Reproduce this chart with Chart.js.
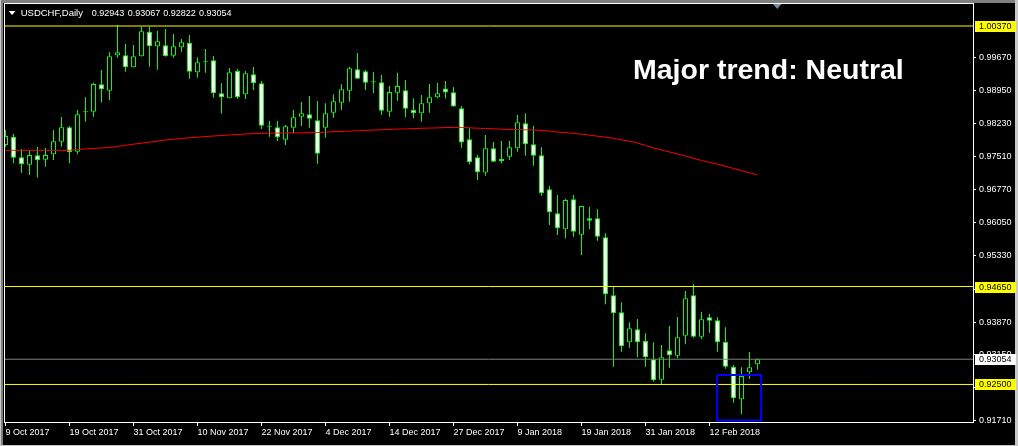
<!DOCTYPE html>
<html>
<head>
<meta charset="utf-8">
<script src="https://cdn.jsdelivr.net/npm/chart.js@4/dist/chart.umd.min.js"></script>
<style>
html,body{margin:0;padding:0;background:#000;overflow:hidden}
canvas{display:block}
</style>
</head>
<body>
<canvas id="c" width="1018" height="446"></canvas>
<script>
// ---------------- data ----------------
const symbolText = 'USDCHF,Daily';
const titleText = 'Major trend: Neutral';

const dates = [
 '9 Oct 2017','10 Oct 2017','11 Oct 2017','12 Oct 2017','13 Oct 2017','16 Oct 2017','17 Oct 2017','18 Oct 2017','19 Oct 2017','20 Oct 2017',
 '23 Oct 2017','24 Oct 2017','25 Oct 2017','26 Oct 2017','27 Oct 2017','30 Oct 2017','31 Oct 2017','1 Nov 2017','2 Nov 2017','3 Nov 2017',
 '6 Nov 2017','7 Nov 2017','8 Nov 2017','9 Nov 2017','10 Nov 2017','13 Nov 2017','14 Nov 2017','15 Nov 2017','16 Nov 2017','17 Nov 2017',
 '20 Nov 2017','21 Nov 2017','22 Nov 2017','23 Nov 2017','24 Nov 2017','27 Nov 2017','28 Nov 2017','29 Nov 2017','30 Nov 2017','1 Dec 2017',
 '4 Dec 2017','5 Dec 2017','6 Dec 2017','7 Dec 2017','8 Dec 2017','11 Dec 2017','12 Dec 2017','13 Dec 2017','14 Dec 2017','15 Dec 2017',
 '18 Dec 2017','19 Dec 2017','20 Dec 2017','21 Dec 2017','22 Dec 2017','26 Dec 2017','27 Dec 2017','28 Dec 2017','29 Dec 2017','2 Jan 2018',
 '3 Jan 2018','4 Jan 2018','5 Jan 2018','8 Jan 2018','9 Jan 2018','10 Jan 2018','11 Jan 2018','12 Jan 2018','15 Jan 2018','16 Jan 2018',
 '17 Jan 2018','18 Jan 2018','19 Jan 2018','22 Jan 2018','23 Jan 2018','24 Jan 2018','25 Jan 2018','26 Jan 2018','29 Jan 2018','30 Jan 2018',
 '31 Jan 2018','1 Feb 2018','2 Feb 2018','5 Feb 2018','6 Feb 2018','7 Feb 2018','8 Feb 2018','9 Feb 2018','12 Feb 2018','13 Feb 2018',
 '14 Feb 2018','15 Feb 2018','16 Feb 2018','19 Feb 2018','20 Feb 2018'
];

const opens = [
 .97758,.97933,.97487,.97325,.97531,.97435,.97553,.97830,.98146,.97610,
 .98477,.98489,.99090,.98950,.99727,.99727,.99463,.99705,1.00245,.99924,
 .99946,.99718,.99902,1.00003,.99354,.99588,.99617,.98892,.98783,.99382,
 .98871,.99310,.99112,.98161,.98146,.97874,.98137,.98379,.98431,.98300,
 .98137,.98467,.98686,.98950,.99419,.99375,.99136,.99134,.98489,.98906,
 .98958,.98526,.98453,.98673,.98805,.98998,.98914,.98563,.97883,.97487,
 .97154,.97685,.97450,.97501,.97685,.98234,.97773,.97531,.96785,.96258,
 .95907,.96565,.95788,.96148,.96148,.95731,.94458,.94085,.93426,.93711,
 .93455,.93053,.92605,.93250,.93132,.93571,.94458,.93549,.93975,.93909,
 .93432,.92890,.92175,.92767,.92943
];
const highs = [
 .98087,.97999,.97670,.97632,.97714,.97692,.98087,.98372,.98175,.98526,
 .98805,.99125,.99404,.99793,1.00392,.99975,.99953,1.00355,1.00355,1.00267,
 1.00304,1.00194,1.00085,1.00172,.99683,.99865,.99711,.99112,.99448,.99426,
 .99382,.99470,.99163,.98284,.98284,.98197,.98526,.98702,.98833,.98723,
 .98673,.98871,.99090,.99470,.99777,.99404,.99360,.99294,.99053,.99345,
 .99184,.98783,.98855,.99097,.99125,.99163,.99031,.98614,.98124,.97538,
 .97977,.97823,.97845,.97845,.98416,.98453,.98175,.97707,.96857,.96660,
 .96572,.96660,.96420,.96403,.96346,.95819,.94647,.94304,.93865,.93938,
 .93624,.93426,.93367,.93784,.93981,.94552,.94706,.94091,.94047,.93975,
 .93755,.92928,.92877,.93213,.93067
];
const lows = [
 .97720,.97356,.97149,.97099,.97040,.97281,.97428,.97720,.97356,.97553,
 .98269,.98379,.98691,.98745,.99674,.99367,.99460,.99700,.99476,.99411,
 .99700,.99674,.99806,.99213,.99235,.99345,.98796,.98445,.98780,.98767,
 .98767,.98965,.98109,.97940,.97845,.97758,.98014,.98175,.98137,.97347,
 .97918,.98357,.98526,.98708,.99210,.98965,.98892,.98416,.98379,.98730,
 .98366,.98344,.98269,.98467,.98783,.98778,.98598,.97698,.97329,.96989,
 .97084,.97384,.97356,.97428,.97610,.97523,.97303,.96644,.96001,.95782,
 .95709,.95744,.95342,.95907,.95656,.94260,.92890,.93220,.93307,.93097,
 .92890,.92561,.92511,.92868,.93075,.93389,.93527,.93492,.93637,.93220,
 .92846,.92100,.91852,.92620,.92822
];
const closes = [
 .97955,.97479,.97334,.97538,.97422,.97538,.97839,.98146,.97597,.98431,
 .98475,.99097,.98980,.99705,.99793,.99463,.99705,1.00254,.99924,1.00034,
 .99705,.99924,1.00012,.99367,.99573,.99586,.98892,.98805,.99354,.98805,
 .99332,.99112,.98181,.98159,.97927,.98168,.98366,.98453,.98335,.97566,
 .98453,.98717,.98980,.99441,.99213,.99125,.99134,.98510,.98921,.99053,
 .98554,.98453,.98673,.98805,.98892,.98910,.98603,.97812,.97378,.97158,
 .97685,.97391,.97400,.97707,.98256,.97773,.97523,.96697,.96280,.95929,
 .96550,.95854,.96418,.96096,.95744,.94480,.94063,.93338,.93733,.93426,
 .93097,.92592,.93097,.93141,.93536,.94392,.93549,.93931,.93900,.93426,
 .92890,.92196,.92686,.92877,.93054
];
const movingAverage = [
 .97641,.97641,.97641,.97641,.97641,.97641,.97641,.97641,.97641,.97659,
 .97670,.97681,.97692,.97703,.97725,.97751,.97775,.97797,.97819,.97841,
 .97867,.97885,.97900,.97916,.97929,.97944,.97955,.97966,.97977,.97988,
 .97999,.98008,.98012,.98017,.98019,.98021,.98023,.98025,.98028,.98032,
 .98039,.98050,.98056,.98063,.98069,.98078,.98085,.98091,.98100,.98107,
 .98111,.98118,.98124,.98129,.98133,.98140,.98144,.98142,.98135,.98126,
 .98120,.98113,.98104,.98100,.98096,.98091,.98087,.98078,.98061,.98043,
 .98030,.98014,.97995,.97973,.97951,.97929,.97905,.97872,.97841,.97801,
 .97747,.97692,.97648,.97604,.97560,.97516,.97466,.97417,.97378,.97336,
 .97290,.97242,.97193,.97147,.97099
];

const yTickValues = [0.99670,0.98950,0.98230,0.97510,0.96770,0.96050,0.95330,0.94590,0.93870,0.93150,0.92430,0.91710];
const xTickIndexes = [0,8,16,24,32,40,48,56,64,72,80,88];
const levelLines = [1.00370, 0.94650, 0.92500];
const bidPrice = 0.93054;
const boxFromIndex = 88.95, boxToIndex = 94.45, boxLow = 0.91710, boxHigh = 0.92710;

const xMin = -0.1875, xMax = 120.9375;
const yMin = 0.91676, yMax = 1.00875;

// ---------------- chart ----------------
const FONT = 'Liberation Sans';
Chart.defaults.font.family = FONT;
Chart.defaults.color = '#ffffff';

const bodyData = dates.map((d, i) => ({x: i, y: [opens[i], closes[i]]}));
const wickData = dates.map((d, i) => ({x: i, y: [lows[i], highs[i]]}));
const bodyFill = dates.map((d, i) => closes[i] > opens[i] ? '#000000' : '#ffffff');
const maData = movingAverage.map((v, i) => ({x: i, y: v}));

const levelSets = levelLines.map(v => ({
  type: 'line', data: [{x: xMin, y: v}, {x: xMax, y: v}],
  borderColor: '#ffff00', borderWidth: 1, pointRadius: 0, order: 1
}));

const decorations = {
  id: 'decorations',
  beforeDraw(chart) {
    const {ctx, width, height} = chart;
    ctx.save();
    ctx.fillStyle = '#000'; ctx.fillRect(0, 0, width, height);
    ctx.fillStyle = '#808080';
    ctx.fillRect(0, 0, width, 3);
    ctx.fillRect(0, 0, 3, height);
    ctx.fillStyle = '#c8c8c8';
    ctx.fillRect(0, 0, 1, height);
    ctx.fillRect(width - 3, 0, 3, height);
    ctx.fillRect(0, height - 1, width, 1);
    ctx.restore();
  },
  afterDraw(chart) {
    const {ctx, chartArea: a, scales} = chart;
    const ys = scales.y;
    ctx.save();
    // frame
    ctx.strokeStyle = '#ffffff'; ctx.lineWidth = 1;
    ctx.strokeRect(a.left + 0.5, a.top + 0.5, a.right - a.left, a.bottom - a.top);
    // price tags
    ctx.font = '9px "' + FONT + '"';
    ctx.textBaseline = 'middle'; ctx.textAlign = 'left';
    const tag = (v, bg) => {
      const py = ys.getPixelForValue(v);
      ctx.fillStyle = bg;
      ctx.fillRect(a.right + 2, Math.round(py) - 5, 41, 11);
      ctx.fillStyle = '#000';
      ctx.fillText(v.toFixed(5), a.right + 6, Math.round(py) + 0.5);
    };
    levelLines.forEach(v => tag(v, '#ffff00'));
    tag(bidPrice, '#ffffff');
    // chart shift marker
    ctx.fillStyle = '#7a8ca0';
    ctx.beginPath(); ctx.moveTo(773, 4); ctx.lineTo(781.5, 4); ctx.lineTo(777.2, 9); ctx.closePath(); ctx.fill();
    // header
    ctx.fillStyle = '#ffffff';
    ctx.beginPath(); ctx.moveTo(8.7, 11); ctx.lineTo(15.5, 11); ctx.lineTo(12.1, 15); ctx.closePath(); ctx.fill();
    ctx.font = '9.5px "' + FONT + '"';
    ctx.fillText(symbolText, 20.7, 13.5);
    ctx.font = '9px "' + FONT + '"';
    const n = dates.length - 1;
    const ohlc = [opens[n], highs[n], lows[n], closes[n]];
    const hx = [91.7, 127.7, 163.3, 199];
    ohlc.forEach((v, k) => ctx.fillText(v.toFixed(5), hx[k], 13.5));
    // title
    ctx.font = 'bold 28.5px "' + FONT + '"';
    ctx.textBaseline = 'alphabetic';
    ctx.fillText(titleText, 633, 79.3);
    ctx.restore();
  }
};

new Chart(document.getElementById('c'), {
  type: 'bar',
  data: {
    datasets: [
      {
        type: 'line', label: 'box',
        data: [{x: boxFromIndex, y: boxHigh}, {x: boxToIndex, y: boxHigh}, {x: boxToIndex, y: boxLow}, {x: boxFromIndex, y: boxLow}, {x: boxFromIndex, y: boxHigh}],
        borderColor: '#0000ff', borderWidth: 2, pointRadius: 0, order: 0
      },
      ...levelSets,
      {
        type: 'line', label: 'bid', data: [{x: xMin, y: bidPrice}, {x: xMax, y: bidPrice}],
        borderColor: '#808080', borderWidth: 1, pointRadius: 0, order: 2
      },
      {
        type: 'line', label: 'MA', data: maData,
        borderColor: '#ff0000', borderWidth: 1, pointRadius: 0, tension: 0, order: 3
      },
      {
        type: 'bar', label: 'bodies', data: bodyData,
        backgroundColor: bodyFill, borderColor: '#00ff00', borderWidth: 1,
        borderSkipped: false, barThickness: 5, minBarLength: 1, grouped: false,
        inflateAmount: 0, order: 4
      },
      {
        type: 'bar', label: 'wicks', data: wickData,
        backgroundColor: '#00ff00', borderWidth: 0, barThickness: 1,
        grouped: false, inflateAmount: 0, order: 5
      }
    ]
  },
  options: {
    responsive: false,
    animation: false,
    devicePixelRatio: 1,
    layout: {padding: {left: 4, top: 3, right: 0, bottom: 0}},
    plugins: {legend: {display: false}, tooltip: {enabled: false}},
    events: [],
    scales: {
      x: {
        type: 'linear', position: 'bottom', min: xMin, max: xMax, offset: false,
        grid: {display: true, offset: false, drawOnChartArea: false, drawTicks: true, tickLength: 4, tickColor: '#ffffff', color: '#ffffff'},
        border: {display: false},
        afterBuildTicks: s => { s.ticks = xTickIndexes.map(v => ({value: v})); },
        afterFit: s => { s.height = 24; s.paddingLeft = 0; s.paddingRight = 0; s.paddingTop = 0; s.paddingBottom = 0; },
        ticks: {
          color: '#ffffff', font: {size: 9}, align: 'start', maxRotation: 0, minRotation: 0,
          autoSkip: false, padding: 1,
          callback: v => dates[v]
        }
      },
      y: {
        type: 'linear', position: 'right', min: yMin, max: yMax,
        grid: {display: true, drawOnChartArea: false, drawTicks: true, tickLength: 3, tickColor: '#ffffff', color: '#ffffff'},
        border: {display: false},
        afterBuildTicks: s => { s.ticks = yTickValues.map(v => ({value: v})); },
        afterFit: s => { s.width = 45; s.paddingTop = 0; s.paddingBottom = 0; s.paddingLeft = 0; s.paddingRight = 0; },
        ticks: {color: '#ffffff', font: {size: 9}, padding: 3, callback: v => Number(v).toFixed(5)}
      }
    }
  },
  plugins: [decorations]
});
</script>
</body>
</html>
